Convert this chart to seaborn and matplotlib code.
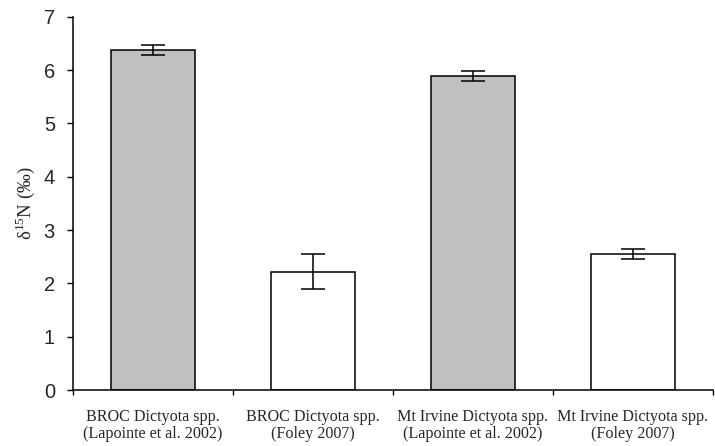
import matplotlib
matplotlib.use("Agg")
import matplotlib.pyplot as plt
import seaborn as sns
import pandas as pd
import numpy as np

# Dictyota spp. nitrogen isotope values by site and study
categories = [
    "BROC Dictyota spp.\n(Lapointe et al. 2002)",
    "BROC Dictyota spp.\n(Foley 2007)",
    "Mt Irvine Dictyota spp.\n(Lapointe et al. 2002)",
    "Mt Irvine Dictyota spp.\n(Foley 2007)",
]
means = [6.38, 2.22, 5.89, 2.55]
errors = [0.09, 0.33, 0.10, 0.09]
fill_colors = ["#C0C0C0", "#FFFFFF", "#C0C0C0", "#FFFFFF"]

df = pd.DataFrame({"group": categories, "value": means})

sns.set_style("white")
fig = plt.figure(figsize=(7.15, 4.46), dpi=100)
ax = fig.add_axes([73 / 715, 56 / 446, 640 / 715, (390 - 16.7) / 446])

sns.barplot(data=df, x="group", y="value", hue="group", palette=fill_colors,
            legend=False, width=0.53, edgecolor="black", linewidth=1.1,
            saturation=1, ax=ax)

ax.errorbar(np.arange(len(means)), means, yerr=errors, fmt="none",
            ecolor="black", elinewidth=1.1, capsize=8.5, capthick=1.1)

ax.set_xlim(-0.5, 3.5)
ax.set_ylim(0, 7)
ax.set_yticks(range(0, 8))

for side in ("top", "right"):
    ax.spines[side].set_visible(False)
for side in ("left", "bottom"):
    ax.spines[side].set_color("black")
    ax.spines[side].set_linewidth(1.1)

ax.tick_params(axis="y", which="major", direction="out", length=4, width=1,
               color="black", labelsize=14.5, pad=9, left=True)
for lab in ax.get_yticklabels():
    lab.set_fontfamily("Liberation Sans")

# category labels centred under bars, tick marks on category boundaries
ax.set_xticks(range(len(categories)))
ax.set_xticklabels(categories, fontfamily="Liberation Serif", fontsize=11.6,
                   linespacing=1.05)
ax.tick_params(axis="x", which="major", length=0, pad=14)
ax.set_xticks(np.arange(-0.5, 4, 1.0), minor=True)
ax.tick_params(axis="x", which="minor", direction="out", length=3.3, width=1,
               color="black", bottom=True)

ax.set_xlabel("")
ax.set_ylabel(r"δ$^{\mathregular{15}}$N (‰)", fontfamily="Liberation Serif",
              fontsize=13.6, labelpad=5)

fig.savefig("out.png", dpi=100)
